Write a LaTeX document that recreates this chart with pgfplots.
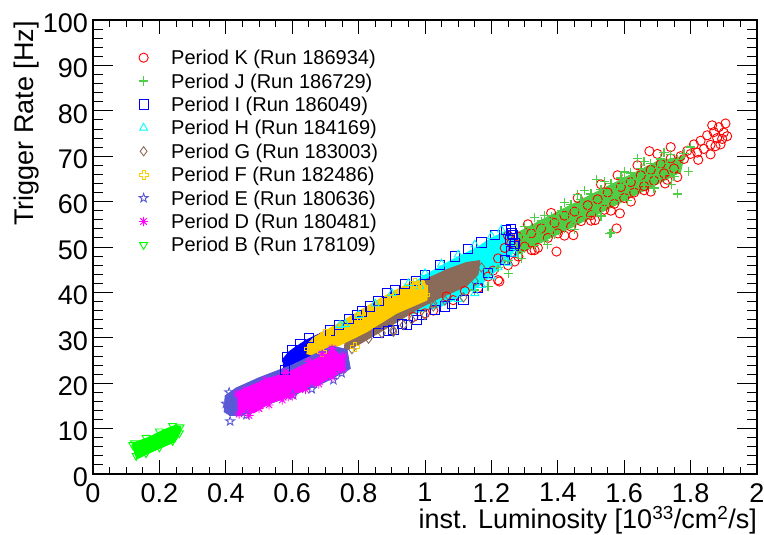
\documentclass[border=0pt]{standalone}
\usepackage{fontspec}
\setmainfont{Liberation Sans}
\usepackage{pgfplots}
\pgfplotsset{compat=1.18}

% outline of a plus sign
\pgfdeclareplotmark{opencross}{%
  \pgfpathmoveto{\pgfqpoint{-0.33\pgfplotmarksize}{\pgfplotmarksize}}%
  \pgfpathlineto{\pgfqpoint{0.33\pgfplotmarksize}{\pgfplotmarksize}}%
  \pgfpathlineto{\pgfqpoint{0.33\pgfplotmarksize}{0.33\pgfplotmarksize}}%
  \pgfpathlineto{\pgfqpoint{\pgfplotmarksize}{0.33\pgfplotmarksize}}%
  \pgfpathlineto{\pgfqpoint{\pgfplotmarksize}{-0.33\pgfplotmarksize}}%
  \pgfpathlineto{\pgfqpoint{0.33\pgfplotmarksize}{-0.33\pgfplotmarksize}}%
  \pgfpathlineto{\pgfqpoint{0.33\pgfplotmarksize}{-\pgfplotmarksize}}%
  \pgfpathlineto{\pgfqpoint{-0.33\pgfplotmarksize}{-\pgfplotmarksize}}%
  \pgfpathlineto{\pgfqpoint{-0.33\pgfplotmarksize}{-0.33\pgfplotmarksize}}%
  \pgfpathlineto{\pgfqpoint{-\pgfplotmarksize}{-0.33\pgfplotmarksize}}%
  \pgfpathlineto{\pgfqpoint{-\pgfplotmarksize}{0.33\pgfplotmarksize}}%
  \pgfpathlineto{\pgfqpoint{-0.33\pgfplotmarksize}{0.33\pgfplotmarksize}}%
  \pgfpathclose\pgfusepathqstroke}

% open five-pointed star
\pgfdeclareplotmark{openstar}{%
  \pgfpathmoveto{\pgfqpoint{0pt}{\pgfplotmarksize}}%
  \pgfpathlineto{\pgfqpoint{-0.2351\pgfplotmarksize}{0.3236\pgfplotmarksize}}%
  \pgfpathlineto{\pgfqpoint{-0.9511\pgfplotmarksize}{0.3090\pgfplotmarksize}}%
  \pgfpathlineto{\pgfqpoint{-0.3804\pgfplotmarksize}{-0.1236\pgfplotmarksize}}%
  \pgfpathlineto{\pgfqpoint{-0.5878\pgfplotmarksize}{-0.8090\pgfplotmarksize}}%
  \pgfpathlineto{\pgfqpoint{0pt}{-0.4\pgfplotmarksize}}%
  \pgfpathlineto{\pgfqpoint{0.5878\pgfplotmarksize}{-0.8090\pgfplotmarksize}}%
  \pgfpathlineto{\pgfqpoint{0.3804\pgfplotmarksize}{-0.1236\pgfplotmarksize}}%
  \pgfpathlineto{\pgfqpoint{0.9511\pgfplotmarksize}{0.3090\pgfplotmarksize}}%
  \pgfpathlineto{\pgfqpoint{0.2351\pgfplotmarksize}{0.3236\pgfplotmarksize}}%
  \pgfpathclose\pgfusepathqstroke}

% eight-armed asterisk
\pgfdeclareplotmark{asterisk8}{%
  \pgfpathmoveto{\pgfqpoint{-\pgfplotmarksize}{0pt}}%
  \pgfpathlineto{\pgfqpoint{\pgfplotmarksize}{0pt}}%
  \pgfpathmoveto{\pgfqpoint{0pt}{-\pgfplotmarksize}}%
  \pgfpathlineto{\pgfqpoint{0pt}{\pgfplotmarksize}}%
  \pgfpathmoveto{\pgfqpoint{-0.7\pgfplotmarksize}{-0.7\pgfplotmarksize}}%
  \pgfpathlineto{\pgfqpoint{0.7\pgfplotmarksize}{0.7\pgfplotmarksize}}%
  \pgfpathmoveto{\pgfqpoint{-0.7\pgfplotmarksize}{0.7\pgfplotmarksize}}%
  \pgfpathlineto{\pgfqpoint{0.7\pgfplotmarksize}{-0.7\pgfplotmarksize}}%
  \pgfusepathqstroke}

\definecolor{cK}{RGB}{255,0,0}
\definecolor{cJ}{RGB}{80,205,70}
\definecolor{cI}{RGB}{0,0,255}
\definecolor{cH}{RGB}{0,255,255}
\definecolor{cG}{RGB}{138,106,88}
\definecolor{cF}{RGB}{255,204,0}
\definecolor{cE}{RGB}{90,90,215}
\definecolor{cD}{RGB}{255,0,255}
\definecolor{cB}{RGB}{0,255,0}

\begin{document}
\begin{tikzpicture}
\useasboundingbox (0,0) rectangle (764bp,535bp);
\begin{axis}[
  at={(93bp,61bp)}, anchor=south west,
  scale only axis, width=664bp, height=454bp,
  xmin=0, xmax=2, ymin=0, ymax=100,
  xtick={0,0.2,0.4,0.6,0.8,1,1.2,1.4,1.6,1.8,2},
  xticklabels={0,0.2,0.4,0.6,0.8,1,1.2,1.4,1.6,1.8,2},
  ytick={0,10,20,30,40,50,60,70,80,90,100},
  yticklabels={0,10,20,30,40,50,60,70,80,90,100},
  minor x tick num=3, minor y tick num=4,
  tick align=inside, tick pos=both,
  major tick length=20bp, minor tick length=10bp,
  xtick style={/pgfplots/major tick length=13.6bp,/pgfplots/minor tick length=6.8bp},
  every tick/.style={black, line width=0.9bp},
  axis line style={line width=1.3bp},
  /pgf/number format/assume math mode=true,
  ticklabel style={font=\fontsize{27bp}{27bp}\selectfont},
  xticklabel style={anchor=north, inner sep=0pt, yshift=-9bp},
  yticklabel style={anchor=east, inner sep=0pt, xshift=-5bp, yshift=-3bp},
  xlabel={inst. Luminosity [10\textsuperscript{33}/cm\textsuperscript{2}/s]},
  xlabel style={at={(axis description cs:1,-0.1211)}, anchor=base east, inner sep=0pt,
    font=\fontsize{27bp}{27bp}\selectfont},
  ylabel={Trigger Rate [Hz]},
  ylabel style={at={(axis description cs:-0.0899,0.998)}, anchor=base east, inner sep=0pt,
    font=\fontsize{27bp}{27bp}\selectfont},
  legend image code/.code={\draw[mark repeat=2,mark phase=2] plot coordinates {(0bp,2bp)(15bp,2bp)(30bp,2bp)};},
  legend cell align=left,
  legend style={at={(axis description cs:0.0693,0.9346)}, anchor=north west,
    draw=none, fill=none, inner sep=0pt, outer sep=0pt,
    row sep=3.4bp, column sep=23bp,
    font=\fontsize{20bp}{23.5bp}\selectfont,
    nodes={inner sep=0pt, text height=15bp, text depth=5bp}},
  every axis plot/.append style={mark size=4.6bp, line width=0.9bp},
]

% ---- Period K (Run 186934)
\addplot[only marks, mark=o, color=cK] coordinates {
(1.80,70.5) (1.81,72.6) (1.82,70.8) (1.83,73.4) (1.84,71.6) (1.85,74.6) (1.86,72.5)
(1.865,76.8) (1.87,75.3) (1.875,72.2) (1.88,74.0) (1.885,76.4) (1.89,72.6) (1.895,73.8)
(1.90,75.2) (1.905,77.2) (1.91,74.4) (1.79,71.2) (1.78,69.4) (1.86,70.4)
(1.22,47.5) (1.24,49.8) (1.26,50.9) (1.28,52.3) (1.30,50.1) (1.32,53.0) (1.33,49.3)
(1.35,54.1) (1.37,52.0) (1.39,55.3) (1.40,53.0) (1.42,56.9) (1.44,54.5) (1.45,57.8)
(1.47,55.7) (1.49,59.2) (1.50,57.0) (1.52,60.5) (1.54,58.2) (1.55,62.0) (1.57,59.5)
(1.59,63.2) (1.60,60.8) (1.62,64.3) (1.63,62.0) (1.65,65.8) (1.66,63.4) (1.68,67.0)
(1.69,64.6) (1.71,68.3) (1.72,66.2) (1.74,69.5) (1.75,67.3) (1.77,70.0) (1.76,65.4)
(1.25,52.5) (1.31,55.0) (1.38,57.5) (1.46,60.8) (1.53,63.8) (1.58,65.8) (1.64,68.0)
(1.70,70.5) (1.74,72.0) (1.27,46.8) (1.34,49.8) (1.42,52.5) (1.50,55.8) (1.56,58.0)
(1.62,60.0) (1.68,62.2) (1.73,64.8)
(1.224,42.4) (1.281,47.9) (1.321,49.3) (1.396,49.0) (1.447,52.6) (1.512,55.9)
(1.577,54.1) (1.587,57.4) (1.66,62.5) (1.723,64.0) (1.823,69.2) (1.676,71.1)
(1.0,35.4) (1.025,36.0) (1.065,39.1) (1.085,38.3) (1.22,42.7) (1.16,41.0) (1.19,43.5)
(0.965,34.6) (1.12,40.3) (1.205,44.8) (1.25,46.0)
};
\addlegendentry{Period K (Run 186934)}

% ---- Period J (Run 186729)
\addplot[forget plot, fill=cJ, draw=cJ, mark=none] coordinates {
(1.27,48.0) (1.35,51.0) (1.43,53.9) (1.53,57.6) (1.63,61.3) (1.70,63.9) (1.77,66.5)
(1.78,70.0) (1.70,68.9) (1.63,66.3) (1.53,62.6) (1.43,58.9) (1.35,55.9) (1.28,53.2)
};
\addplot[only marks, mark=+, color=cJ, line width=1.3bp] coordinates {
(1.25,47.0) (1.27,50.5) (1.28,48.6) (1.29,52.6) (1.30,49.8) (1.31,51.9) (1.32,54.2)
(1.33,50.4) (1.34,53.2) (1.35,55.7) (1.36,51.5) (1.37,54.6) (1.38,56.8) (1.39,52.8)
(1.40,55.6) (1.41,58.1) (1.42,54.0) (1.43,57.0) (1.44,59.3) (1.45,55.4) (1.46,58.0)
(1.47,60.4) (1.48,56.5) (1.49,59.2) (1.50,61.7) (1.51,57.8) (1.52,60.3) (1.53,62.6)
(1.54,58.9) (1.55,61.5) (1.56,64.0) (1.57,60.0) (1.58,62.8) (1.59,65.2) (1.60,61.3)
(1.61,63.9) (1.62,66.3) (1.63,62.4) (1.64,65.0) (1.65,67.3) (1.66,63.5) (1.67,66.0)
(1.68,68.4) (1.69,64.8) (1.70,67.3) (1.71,69.4) (1.72,65.9) (1.73,68.4) (1.74,70.4)
(1.75,67.0) (1.76,69.2) (1.78,70.6) (1.80,72.0)
(1.30,54.5) (1.36,57.0) (1.42,59.8) (1.48,62.5) (1.54,64.5) (1.60,66.5) (1.66,68.8)
(1.72,70.8) (1.29,47.5) (1.37,50.5) (1.45,53.8) (1.53,56.8) (1.61,60.2) (1.69,63.0)
(1.75,65.5)
(1.76,61.7) (1.793,66.7) (1.557,53.0) (1.743,63.7) (1.562,53.2) (1.517,64.8)
(1.251,44.2) (1.19,41.3) (1.46,61.5) (1.33,56.5) (1.64,69.5) (1.22,45.5) (1.15,40.5)
};
\addlegendentry{Period J (Run 186729)}

% ---- Period I (Run 186049)
\addplot[forget plot, fill=cI, draw=cI, mark=none] coordinates {
(0.575,22.8) (0.572,25.3) (0.59,26.9) (0.615,28.2) (0.645,29.6) (0.70,31.5)
(0.70,27.0) (0.66,24.2) (0.62,22.8) (0.60,22.4)
};
\addplot[only marks, mark=square, color=cI] coordinates {
(0.578,23.0) (0.585,25.8) (0.60,27.2) (0.625,28.6) (0.65,30.0)
(0.714,31.6) (0.74,32.8) (0.77,34.2) (0.794,35.0) (0.81,35.8) (0.834,36.9) (0.86,38.2)
(0.885,39.8) (0.91,40.6) (0.94,41.9) (0.973,42.6) (1.0,43.9) (1.045,46.0) (1.09,47.9)
(1.13,49.5) (1.17,51.0) (1.21,52.6) (1.245,53.8) (1.266,52.6) (1.27,50.8) (1.26,54.0)
(0.905,31.7) (0.945,32.8) (0.975,34.0) (1.06,36.9) (1.116,38.4) (1.16,40.9) (1.19,44.2)
(1.24,47.1) (0.86,31.0) (0.89,31.5) (0.93,33.0) (0.99,35.0) (1.03,36.2) (1.08,37.5)
(1.255,51.5) (1.262,53.0) (1.268,50.2) (1.258,49.0)
};
\addlegendentry{Period I (Run 186049)}

% ---- Period H (Run 184169)
\addplot[forget plot, fill=cH, draw=cH, mark=none] coordinates {
(0.76,31.5) (0.80,34.5) (0.90,39.0) (1.00,43.8) (1.085,47.3) (1.16,50.0) (1.20,52.0)
(1.25,53.6) (1.27,52.5) (1.265,49.0) (1.21,44.5) (1.17,41.8) (1.12,39.5) (1.05,37.0)
(0.95,35.0) (0.85,32.0) (0.78,30.0)
};
\addplot[only marks, mark=triangle, color=cH] coordinates {
(0.76,33.0) (0.80,35.0) (0.85,37.5) (0.90,39.8) (0.95,42.0) (1.0,44.2) (1.05,46.3)
(1.10,48.3) (1.15,50.5) (1.20,52.4) (1.23,53.8) (1.15,39.8) (1.17,41.6) (0.985,41.3)
(1.20,43.5) (1.25,46.5) (1.10,38.5) (1.27,48.5) (0.744,32.8) (1.22,45.5)
};
\addlegendentry{Period H (Run 184169)}

% ---- Period G (Run 183003)
\addplot[forget plot, fill=cG, draw=cG, mark=none] coordinates {
(0.755,27.0) (0.80,28.5) (0.90,32.8) (0.985,36.6) (1.045,38.8) (1.125,41.4) (1.16,44.0)
(1.165,47.0) (1.125,46.6) (1.065,45.0) (1.0,42.8) (0.92,39.5) (0.82,34.5) (0.76,31.0)
};
\addplot[only marks, mark=diamond, color=cG] coordinates {
(1.0,35.0) (1.025,36.9) (0.904,31.7) (0.935,32.8) (0.905,31.3) (1.025,37.6)
(1.116,38.9) (0.78,27.5) (0.83,29.8) (0.87,31.0) (1.17,45.5) (1.15,42.5) (0.96,34.0)
(1.06,38.2)
};
\addlegendentry{Period G (Run 183003)}

% ---- Period F (Run 182486)
\addplot[forget plot, fill=cF, draw=cF, mark=none] coordinates {
(0.644,26.4) (0.649,28.8) (0.664,30.0) (0.764,34.2) (0.864,38.6) (0.945,41.8)
(0.995,42.8) (1.008,40.5) (1.006,38.3) (0.914,35.4) (0.824,31.3) (0.744,28.4) (0.664,26.0)
};
\addplot[only marks, mark=opencross, color=cF] coordinates {
(0.789,28.0) (0.995,41.3) (0.65,27.5) (0.70,30.8) (0.80,34.5) (0.90,38.6) (0.97,42.0)
(0.69,26.9) (1.0,39.5)
};
\addlegendentry{Period F (Run 182486)}

% ---- Period E (Run 180636)
\addplot[forget plot, fill=cE, draw=cE, mark=none] coordinates {
(0.395,13.6) (0.398,17.2) (0.43,18.9) (0.50,21.2) (0.60,24.0) (0.68,26.8) (0.72,28.2)
(0.765,27.4) (0.775,23.2) (0.70,20.3) (0.60,17.3) (0.50,14.6) (0.45,12.9) (0.41,12.9)
};
\addplot[only marks, mark=openstar, color=cE] coordinates {
(0.413,11.6) (0.462,13.0) (0.603,17.4) (0.659,18.7) (0.724,20.7) (0.749,22.2)
(0.40,15.5) (0.41,18.0)
};
\addlegendentry{Period E (Run 180636)}

% ---- Period D (Run 180481)
\addplot[forget plot, fill=cD, draw=cD, mark=none] coordinates {
(0.438,13.0) (0.435,18.1) (0.503,20.3) (0.603,22.9) (0.684,25.8) (0.724,27.5)
(0.759,25.1) (0.759,22.9) (0.684,20.0) (0.603,17.4) (0.533,15.6) (0.483,13.4)
};
\addplot[only marks, mark=asterisk8, color=cD] coordinates {
(0.44,13.2) (0.47,12.9) (0.50,14.4) (0.53,15.2) (0.57,16.3) (0.60,17.2) (0.64,18.6)
(0.68,19.8) (0.72,21.3) (0.75,23.0) (0.755,26.0) (0.72,27.6) (0.69,26.4) (0.65,24.8)
(0.58,22.4) (0.52,20.6) (0.46,18.5) (0.435,17.6) (0.588,17.0)
};
\addlegendentry{Period D (Run 180481)}

% ---- Period B (Run 178109)
\addplot[forget plot, fill=cB, draw=cB, mark=none] coordinates {
(0.117,6.4) (0.132,3.3) (0.157,4.2) (0.202,5.7) (0.247,7.1) (0.262,9.0) (0.265,10.5)
(0.247,10.7) (0.212,9.7) (0.172,8.2) (0.121,6.8)
};
\addplot[only marks, mark=triangle, mark options={rotate=180}, color=cB] coordinates {
(0.12,6.4) (0.13,4.0) (0.16,4.6) (0.20,5.9) (0.24,7.3) (0.26,9.0) (0.262,10.3)
(0.24,10.6) (0.20,9.4) (0.16,8.0) (0.125,6.8) (0.14,5.2) (0.18,6.9) (0.22,8.1)
};
\addlegendentry{Period B (Run 178109)}

\end{axis}
\end{tikzpicture}
\end{document}
